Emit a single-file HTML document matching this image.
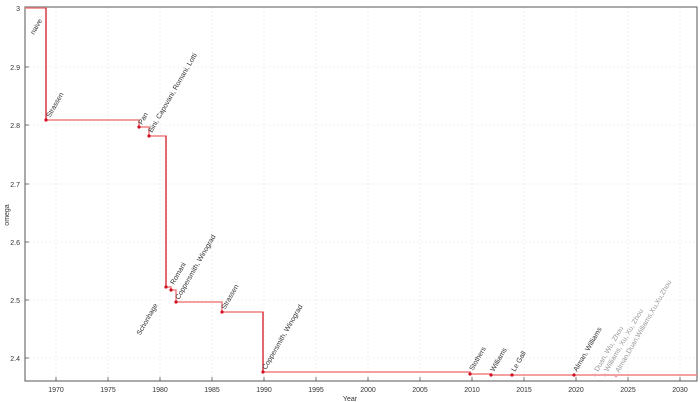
<!DOCTYPE html>
<html><head><meta charset="utf-8"><style>
body{margin:0;background:#fff}
svg{display:block;font-family:"Liberation Sans","DejaVu Sans",sans-serif}
</style></head><body>
<svg width="700" height="402" viewBox="0 0 700 402">
<g stroke="#ececec" stroke-width="0.8" stroke-dasharray="2,2">
<line x1="56" y1="7" x2="56" y2="381"/><line x1="108" y1="7" x2="108" y2="381"/><line x1="160" y1="7" x2="160" y2="381"/><line x1="212" y1="7" x2="212" y2="381"/><line x1="264" y1="7" x2="264" y2="381"/><line x1="316" y1="7" x2="316" y2="381"/><line x1="368" y1="7" x2="368" y2="381"/><line x1="420" y1="7" x2="420" y2="381"/><line x1="472" y1="7" x2="472" y2="381"/><line x1="524" y1="7" x2="524" y2="381"/><line x1="576" y1="7" x2="576" y2="381"/><line x1="628" y1="7" x2="628" y2="381"/><line x1="680" y1="7" x2="680" y2="381"/>
<line x1="25" y1="67" x2="697" y2="67"/><line x1="25" y1="125" x2="697" y2="125"/><line x1="25" y1="184" x2="697" y2="184"/><line x1="25" y1="242" x2="697" y2="242"/><line x1="25" y1="300" x2="697" y2="300"/><line x1="25" y1="358" x2="697" y2="358"/>
</g>
<rect x="25" y="7" width="672" height="374" fill="none" stroke="#555" stroke-width="1"/>
<g stroke="#555" stroke-width="0.8">
<line x1="56" y1="381" x2="56" y2="377"/><line x1="108" y1="381" x2="108" y2="377"/><line x1="160" y1="381" x2="160" y2="377"/><line x1="212" y1="381" x2="212" y2="377"/><line x1="264" y1="381" x2="264" y2="377"/><line x1="316" y1="381" x2="316" y2="377"/><line x1="368" y1="381" x2="368" y2="377"/><line x1="420" y1="381" x2="420" y2="377"/><line x1="472" y1="381" x2="472" y2="377"/><line x1="524" y1="381" x2="524" y2="377"/><line x1="576" y1="381" x2="576" y2="377"/><line x1="628" y1="381" x2="628" y2="377"/><line x1="680" y1="381" x2="680" y2="377"/>
<line x1="25" y1="8" x2="29" y2="8"/><line x1="25" y1="67" x2="29" y2="67"/><line x1="25" y1="125" x2="29" y2="125"/><line x1="25" y1="184" x2="29" y2="184"/><line x1="25" y1="242" x2="29" y2="242"/><line x1="25" y1="300" x2="29" y2="300"/><line x1="25" y1="358" x2="29" y2="358"/>
</g>
<g font-size="7" fill="#333" text-anchor="end">
<text x="20" y="11">3</text><text x="20" y="70">2.9</text><text x="20" y="128">2.8</text><text x="20" y="187">2.7</text><text x="20" y="245">2.6</text><text x="20" y="303">2.5</text><text x="20" y="361">2.4</text>
</g>
<g font-size="7" fill="#333" text-anchor="middle">
<text x="56" y="392">1970</text><text x="108" y="392">1975</text><text x="160" y="392">1980</text><text x="212" y="392">1985</text><text x="264" y="392">1990</text><text x="316" y="392">1995</text><text x="368" y="392">2000</text><text x="420" y="392">2005</text><text x="472" y="392">2010</text><text x="524" y="392">2015</text><text x="576" y="392">2020</text><text x="628" y="392">2025</text><text x="680" y="392">2030</text>
<text x="350" y="401">Year</text>
<text transform="translate(9,215) rotate(-90)">omega</text>
</g>
<polyline fill="none" stroke="#f08080" stroke-width="1.5" points="25,8 46,8 46,120 139,120 139,127 149,127 149,136 166,136 166,287 171,287 171,290 176,290 176,302 222,302 222,312 263,312 263,372 470,372 470,374 491,374 491,375 697,375"/>
<g stroke="#d01020" stroke-width="1"><line x1="46" y1="8" x2="46" y2="120"/><line x1="166" y1="136" x2="166" y2="287"/><line x1="263" y1="312" x2="263" y2="372"/></g>
<g fill="#d01020">
<circle cx="46" cy="120" r="1.6"/><circle cx="139" cy="127" r="1.6"/><circle cx="149" cy="136" r="1.6"/><circle cx="166" cy="287" r="1.6"/><circle cx="171" cy="290" r="1.6"/><circle cx="176" cy="302" r="1.6"/><circle cx="222" cy="312" r="1.6"/><circle cx="263" cy="372" r="1.6"/><circle cx="470" cy="374" r="1.6"/><circle cx="491" cy="375" r="1.6"/><circle cx="512" cy="375" r="1.6"/><circle cx="574" cy="375" r="1.6"/>
</g>
<g fill="#f0a0a0"><circle cx="595" cy="375" r="1.4"/><circle cx="605" cy="375" r="1.4"/><circle cx="616" cy="376" r="1.4"/></g>
<g font-size="7" fill="#333">
<text transform="translate(34,35) rotate(-60)">naive</text>
<text transform="translate(50,118) rotate(-60)">Strassen</text>
<text transform="translate(142,125) rotate(-60)">Pan</text>
<text transform="translate(152,133) rotate(-60)">Bini, Capovani, Romani, Lotti</text>
<text transform="translate(174,285) rotate(-60)">Romani</text>
<text transform="translate(179,300) rotate(-60)">Coppersmith, Winograd</text>
<text transform="translate(158,305) rotate(-60)" text-anchor="end">Schonhage</text>
<text transform="translate(225,310) rotate(-60)">Strassen</text>
<text transform="translate(266,370) rotate(-60)">Coppersmith, Winograd</text>
<text transform="translate(473,371) rotate(-60)">Stothers</text>
<text transform="translate(494,372) rotate(-60)">Williams</text>
<text transform="translate(515,372) rotate(-60)">Le Gall</text>
<text transform="translate(577,372) rotate(-60)">Alman, Williams</text>
</g>
<g font-size="7" fill="#999">
<text transform="translate(598,372) rotate(-60)">Duan, Wu, Zhou</text>
<text transform="translate(608,372) rotate(-60)">Williams, Xu, Xu, Zhou</text>
<text transform="translate(619,373) rotate(-60)">Alman,Duan,Williams,Xu,Xu,Zhou</text>
</g>
</svg>
</body></html>
